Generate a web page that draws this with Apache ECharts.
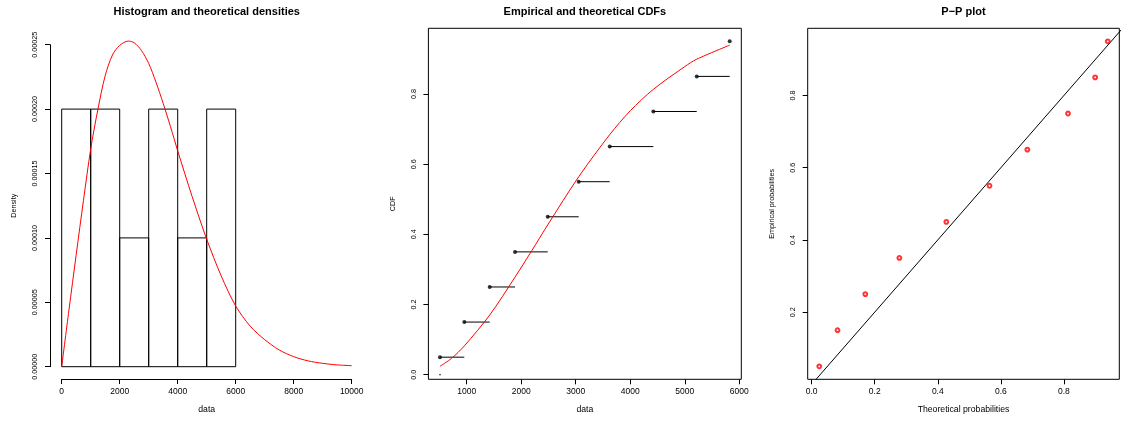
<!DOCTYPE html>
<html><head><meta charset="utf-8">
<script src="https://cdn.jsdelivr.net/npm/echarts@6/dist/echarts.min.js"></script>
<style>html,body{margin:0;padding:0;background:#fff}#c{width:1121px;height:421px}</style>
</head><body><div id="c"></div>
<script>
// ---- data ----
const binEdges   = [0, 1000, 2000, 3000, 4000, 5000, 6000];
const binDensity = [0.0002, 0.0002, 0.0001, 0.0002, 0.0001, 0.0002];

const densX = [0, 250, 500, 750, 1000, 1250, 1500, 1750, 2000, 2300, 2500, 2750, 3000, 3250, 3500, 3750, 4000, 4500, 5000, 5500, 6000, 6500, 7000, 7500, 8000, 8500, 9000, 9500, 10000];
const densY = [0, 0.0000440, 0.0000870, 0.0001290, 0.0001690, 0.0002000, 0.0002260, 0.0002420, 0.0002495, 0.0002528, 0.0002515, 0.0002455, 0.0002355, 0.0002210, 0.0002044, 0.0001865, 0.0001676, 0.0001320, 0.0000990, 0.0000705, 0.0000471, 0.0000315, 0.0000210, 0.0000130, 0.0000078, 0.0000045, 0.0000026, 0.0000014, 0.0000008];

const sortedData = [510, 956, 1422, 1886, 2486, 3054, 3623, 4423, 5219, 5824];
const empProb    = [0.05, 0.15, 0.25, 0.35, 0.45, 0.55, 0.65, 0.75, 0.85, 0.95];

const cdfX = [510, 725, 956, 1422, 1886, 2192, 2486, 3054, 3623, 4000, 4423, 5000, 5219, 5824];
const cdfY = [0.024, 0.047, 0.082, 0.170, 0.278, 0.353, 0.427, 0.564, 0.684, 0.752, 0.813, 0.878, 0.899, 0.939];

const theoProb = [0.024, 0.082, 0.170, 0.278, 0.427, 0.564, 0.684, 0.813, 0.899, 0.939];

const histXTicks = [0, 2000, 4000, 6000, 8000, 10000];
const histYTicks = [0, 0.00005, 0.0001, 0.00015, 0.0002, 0.00025];
const cdfXTicks  = [1000, 2000, 3000, 4000, 5000, 6000];
const cdfYTicks  = [0, 0.2, 0.4, 0.6, 0.8];
const ppXTicks   = [0, 0.2, 0.4, 0.6, 0.8];
const ppYTicks   = [0.2, 0.4, 0.6, 0.8];
const diagLine   = [0, 1];

// ---- helpers ----
const FONT = 'Liberation Sans, Arial, Helvetica, sans-serif';
function ext(lo, hi) { const d = (hi - lo) * 0.04; return [lo - d, hi + d]; }
const p2x = ext(Math.min(...sortedData), Math.max(...sortedData));
const p2y = ext(Math.min(...cdfY, ...empProb), Math.max(...cdfY, ...empProb));
const p3x = ext(Math.min(...theoProb), Math.max(...theoProb));
const p3y = ext(Math.min(...empProb), Math.max(...empProb));

const tickStyle = { color: '#000', width: 1 };
function xAx(o) {
  return Object.assign({
    type: 'value', splitLine: { show: false },
    axisLine: { show: false, onZero: false, lineStyle: tickStyle },
    nameLocation: 'middle', nameGap: 26,
    nameTextStyle: { color: '#000', fontSize: 8.7, fontFamily: FONT }
  }, o);
}
function yAx(o) {
  return Object.assign({
    type: 'value', splitLine: { show: false },
    axisLine: { show: false, onZero: false, lineStyle: tickStyle },
    nameLocation: 'middle', nameGap: 32, nameRotate: 90,
    nameTextStyle: { color: '#000', fontSize: 7.2, fontFamily: FONT }
  }, o);
}
function tick(vals) {
  const t = { show: true, inside: false, length: 5, lineStyle: tickStyle };
  if (vals) t.customValues = vals;
  return t;
}
function xLab(dec, vals) {
  const l = { color: '#000', fontSize: 8.5, fontFamily: FONT, margin: 8,
    formatter: v => dec == null ? String(Math.round(v)) : Number(v).toFixed(dec) };
  if (vals) l.customValues = vals;
  return l;
}
function yLab(dec, vals) {
  const l = { color: '#000', fontSize: 7.2, fontFamily: FONT, rotate: 90, margin: 11,
    formatter: v => Number(v).toFixed(dec) };
  if (vals) l.customValues = vals;
  return l;
}

const chart = echarts.init(document.getElementById('c'), null, { renderer: 'canvas' });
chart.setOption({
  animation: false,
  backgroundColor: '#fff',
  grid: [
    { left: 61.7, top: 44.7, width: 290, height: 322, outerBoundsMode: 'none', containLabel: false },
    { left: 428.4, top: 28.3, width: 312.9, height: 351, show: true, borderColor: '#000', borderWidth: 1, outerBoundsMode: 'none', containLabel: false },
    { left: 807.7, top: 28.3, width: 311.6, height: 351, show: true, borderColor: '#000', borderWidth: 1, outerBoundsMode: 'none', containLabel: false }
  ],
  xAxis: [
    xAx({ gridIndex: 0, min: histXTicks[0], max: histXTicks[histXTicks.length - 1], interval: histXTicks[1] - histXTicks[0],
      offset: 12.3, axisLine: { show: true, onZero: false, lineStyle: tickStyle }, name: 'data',
      axisTick: tick(), axisLabel: xLab(null) }),
    xAx({ gridIndex: 1, min: p2x[0], max: p2x[1], name: 'data',
      axisTick: tick(cdfXTicks), axisLabel: xLab(null, cdfXTicks) }),
    xAx({ gridIndex: 2, min: p3x[0], max: p3x[1], name: 'Theoretical probabilities',
      axisTick: tick(ppXTicks), axisLabel: xLab(1, ppXTicks) })
  ],
  yAxis: [
    yAx({ gridIndex: 0, min: histYTicks[0], max: histYTicks[histYTicks.length - 1], interval: histYTicks[1] - histYTicks[0],
      offset: 11.7, axisLine: { show: true, onZero: false, lineStyle: tickStyle }, name: 'Density',
      axisTick: tick(), axisLabel: yLab(5) }),
    yAx({ gridIndex: 1, min: p2y[0], max: p2y[1], name: 'CDF',
      axisTick: tick(cdfYTicks), axisLabel: yLab(1, cdfYTicks) }),
    yAx({ gridIndex: 2, min: p3y[0], max: p3y[1], name: 'Empirical probabilities',
      axisTick: tick(ppYTicks), axisLabel: yLab(1, ppYTicks) })
  ],
  graphic: [
    { type: 'text', x: 206.7, y: 12, style: { text: 'Histogram and theoretical densities', font: 'bold 11px ' + FONT, fill: '#000', textAlign: 'center', textVerticalAlign: 'middle' } },
    { type: 'text', x: 584.9, y: 12, style: { text: 'Empirical and theoretical CDFs', font: 'bold 11px ' + FONT, fill: '#000', textAlign: 'center', textVerticalAlign: 'middle' } },
    { type: 'text', x: 963.5, y: 12, style: { text: 'P\u2212P plot', font: 'bold 11px ' + FONT, fill: '#000', textAlign: 'center', textVerticalAlign: 'middle' } }
  ],
  series: [
    {
      type: 'custom', xAxisIndex: 0, yAxisIndex: 0, z: 2,
      data: binDensity.map((d, i) => [binEdges[i], binEdges[i + 1], d]),
      encode: { x: [0, 1], y: 2 },
      renderItem: function (params, api) {
        const a = api.coord([api.value(0), api.value(2)]);
        const b = api.coord([api.value(1), 0]);
        return { type: 'rect', shape: { x: a[0], y: a[1], width: b[0] - a[0], height: b[1] - a[1] },
          style: { fill: 'none', stroke: '#000', lineWidth: 1 } };
      }
    },
    {
      type: 'line', xAxisIndex: 0, yAxisIndex: 0, z: 3, clip: false, smooth: 0.3,
      showSymbol: false, symbol: 'none',
      data: densX.map((x, i) => [x, densY[i]]),
      lineStyle: { color: '#ff0000', width: 1 }
    },
    {
      type: 'custom', xAxisIndex: 1, yAxisIndex: 1, z: 2,
      data: sortedData.slice(0, -1).map((x, i) => [x, sortedData[i + 1], empProb[i]]),
      encode: { x: [0, 1], y: 2 },
      renderItem: function (params, api) {
        const a = api.coord([api.value(0), api.value(2)]);
        const b = api.coord([api.value(1), api.value(2)]);
        return { type: 'line', shape: { x1: a[0], y1: a[1], x2: b[0], y2: b[1] },
          style: { stroke: '#000', lineWidth: 1 } };
      }
    },
    {
      type: 'scatter', xAxisIndex: 1, yAxisIndex: 1, z: 3, symbol: 'circle', symbolSize: 4,
      data: sortedData.map((x, i) => [x, empProb[i]]),
      itemStyle: { color: '#000' }
    },
    {
      type: 'scatter', xAxisIndex: 1, yAxisIndex: 1, z: 3, symbol: 'rect', symbolSize: [2, 1],
      data: [[sortedData[0], 0]],
      itemStyle: { color: '#000' }
    },
    {
      type: 'line', xAxisIndex: 1, yAxisIndex: 1, z: 4, smooth: 0.3, showSymbol: false, symbol: 'none',
      data: cdfX.map((x, i) => [x, cdfY[i]]),
      lineStyle: { color: '#ff0000', width: 1 }
    },
    {
      type: 'scatter', xAxisIndex: 2, yAxisIndex: 2, z: 3, symbol: 'emptyCircle', symbolSize: 3.8,
      data: theoProb.map((x, i) => [x, empProb[i]]),
      itemStyle: { color: '#ff0000', borderColor: '#ff0000', borderWidth: 0.9 }
    },
    {
      type: 'line', xAxisIndex: 2, yAxisIndex: 2, z: 2, clip: true, showSymbol: false, symbol: 'none',
      data: diagLine.map(v => [v, v]),
      lineStyle: { color: '#000', width: 1 }
    }
  ]
});
</script>
</body></html>
